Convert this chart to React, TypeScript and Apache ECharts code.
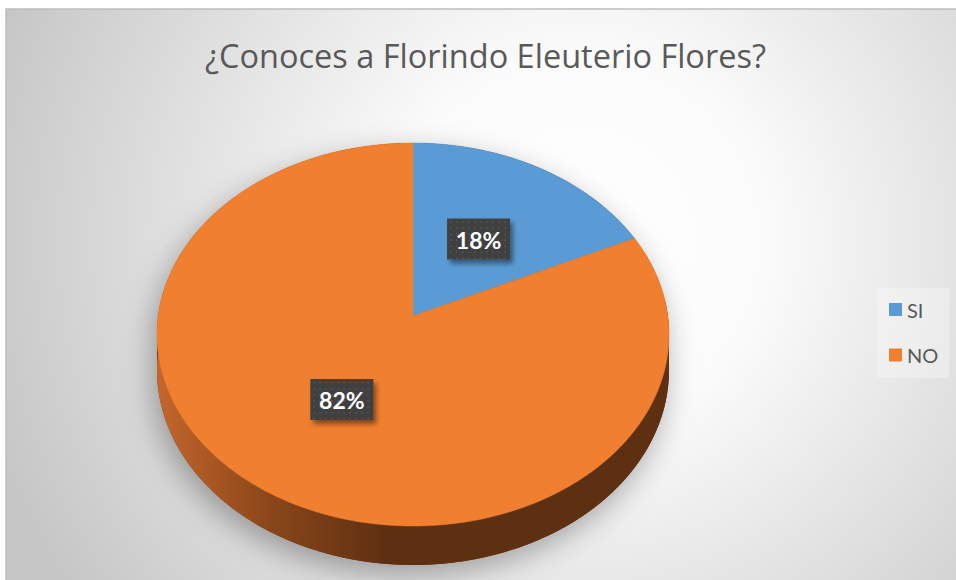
import React, { useEffect, useRef } from 'react';
import * as echarts from 'echarts';

const categories = ['SI', 'NO'];
const values = [18, 82];
const sliceColors = ['#5B9BD5', '#F0802F'];
const titleText = '¿Conoces a Florindo Eleuterio Flores?';

const total = values.reduce((a, b) => a + b, 0);
const starts = values.map((_, i) => values.slice(0, i).reduce((a, b) => a + b, 0));

// perspective geometry of the 3D pie
const CX = 413, CY = 316, RX = 254.8, RY = 189.7, PERSP = 0.0967, DEPTH = 35.2;

function proj(deg: number, r = 1): number[] {
  const t = (deg * Math.PI) / 180;
  const u = r * Math.sin(t);
  const v = -r * Math.cos(t);
  const d = 1 - PERSP * v;
  return [CX + (RX * u) / d, CY + (RY * v) / d, d];
}
function arc(a0: number, a1: number, r = 1): number[][] {
  const n = Math.max(2, Math.ceil(Math.abs(a1 - a0) / 1));
  const pts: number[][] = [];
  for (let i = 0; i <= n; i++) pts.push(proj(a0 + ((a1 - a0) * i) / n, r));
  return pts;
}
const down = (p: number[]) => [p[0], p[1] + DEPTH / p[2]];
const TAN = (Math.acos(-PERSP) * 180) / Math.PI; // silhouette tangent angle

function angles(api: any) {
  const s = api.value(0) as number;
  const v = api.value(1) as number;
  return [(s / total) * 360, ((s + v) / total) * 360, v];
}

const sideGradient = () =>
  new echarts.graphic.LinearGradient(
    157, 0, 385, 0,
    [
      { offset: 0, color: '#c4662b' },
      { offset: 0.5, color: '#8a461a' },
      { offset: 1, color: '#5e3012' },
    ],
    true
  );

function renderSide(params: any, api: any) {
  const [a0, a1] = angles(api);
  const children: any[] = [];
  if (params.dataIndex === 0) {
    const back = arc(TAN - 360, 360 - TAN).map((p) => [p[0], p[1]]);
    const front = arc(TAN, 360 - TAN).map(down);
    children.push({
      type: 'polygon',
      shape: { points: back.concat(front.reverse()) },
      style: {
        fill: '#6a3616',
        shadowBlur: 30,
        shadowColor: 'rgba(0,0,0,0.32)',
        shadowOffsetX: -4,
        shadowOffsetY: 10,
      },
    });
  }
  const b0 = Math.max(a0, 85);
  const b1 = Math.min(a1, 275);
  if (b1 > b0) {
    const top = arc(b0, b1);
    const bot = top.map(down);
    children.push({
      type: 'polygon',
      shape: { points: top.map((p) => [p[0], p[1]]).concat(bot.reverse()) },
      style: { fill: sideGradient() },
    });
  }
  return { type: 'group', children };
}

function renderTop(params: any, api: any) {
  const [a0, a1] = angles(api);
  const pts = [[CX, CY]].concat(arc(a0, a1).map((p) => [p[0], p[1]]));
  return {
    type: 'polygon',
    shape: { points: pts },
    style: { fill: api.visual('color'), stroke: api.visual('color'), lineWidth: 0.5 },
  };
}

function renderLabel(params: any, api: any) {
  const [a0, a1, v] = angles(api);
  const [px, py] = proj((a0 + a1) / 2, 0.5);
  const w = 63, h = 41;
  const x0 = px - w / 2, y0 = py - h / 2;
  const dots: any[] = [];
  for (let yy = y0 + 3; yy < y0 + h - 1; yy += 6) {
    for (let xx = x0 + 3; xx < x0 + w - 1; xx += 6) {
      dots.push({ type: 'rect', shape: { x: xx, y: yy, width: 1.5, height: 1.5 }, style: { fill: '#585858' } });
    }
  }
  return {
    type: 'group',
    children: [
      {
        type: 'rect',
        shape: { x: x0, y: y0, width: w, height: h },
        style: {
          fill: '#404040',
          shadowBlur: 5,
          shadowColor: 'rgba(0,0,0,0.45)',
          shadowOffsetX: 3,
          shadowOffsetY: 4,
        },
      },
      ...dots,
      {
        type: 'text',
        style: {
          text: Math.round((v / total) * 100) + '%',
          x: px,
          y: py + 1,
          fill: '#ffffff',
          font: 'bold 23px Lato',
          align: 'center',
          verticalAlign: 'middle',
        },
      },
    ],
  };
}

export default function App() {
  const ref = useRef<HTMLDivElement>(null);
  useEffect(() => {
    document.body.style.margin = '0';
    const chart = echarts.init(ref.current!, null, { renderer: 'svg' });
    const sliceData = values.map((v, i) => ({ name: categories[i], value: [starts[i], v] }));
    chart.setOption({
      animation: false,
      graphic: [
        {
          type: 'rect',
          z: -100,
          shape: { x: 6, y: 9, width: 960, height: 580 },
          style: {
            fill: new echarts.graphic.RadialGradient(
              580, 240, 620,
              [
                { offset: 0, color: '#ffffff' },
                { offset: 0.3, color: '#fbfbfb' },
                { offset: 1, color: '#c6c6c6' },
              ],
              true
            ),
            stroke: '#bdbdbd',
            lineWidth: 1.5,
          },
        },
        {
          type: 'text',
          z: 10,
          style: {
            text: titleText,
            x: 485.5,
            y: 55,
            align: 'center',
            verticalAlign: 'middle',
            font: '32.5px "Open Sans"',
            fill: '#595959',
          },
        },
      ],
      legend: {
        data: categories,
        orient: 'vertical',
        left: 877,
        top: 288,
        padding: [10, 11, 11.5, 12],
        itemGap: 22.5,
        itemWidth: 13,
        itemHeight: 13,
        icon: 'rect',
        selectedMode: false,
        backgroundColor: 'rgba(255,255,255,0.3)',
        textStyle: { fontFamily: 'Lato', fontSize: 20, color: '#595959', lineHeight: 23 },
      },
      series: [
        {
          type: 'custom',
          name: '_side',
          coordinateSystem: 'none',
          z: 1,
          silent: true,
          data: sliceData,
          renderItem: renderSide,
        },
        ...categories.map((name, i) => ({
          type: 'custom',
          name,
          coordinateSystem: 'none',
          z: 3,
          itemStyle: { color: sliceColors[i] },
          data: [{ name, value: [starts[i], values[i]] }],
          renderItem: renderTop,
        })),
        {
          type: 'custom',
          name: '_labels',
          coordinateSystem: 'none',
          z: 5,
          silent: true,
          data: sliceData,
          renderItem: renderLabel,
        },
      ],
    });
    return () => chart.dispose();
  }, []);
  return <div ref={ref} style={{ width: 956, height: 580 }} />;
}
